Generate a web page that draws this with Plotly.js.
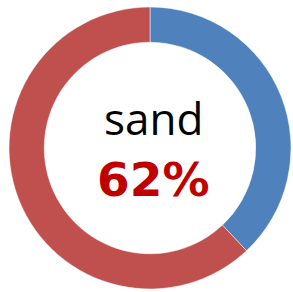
<!DOCTYPE html>
<html>
<head>
<meta charset="utf-8">
<script src="https://cdn.plot.ly/plotly-3.0.1.min.js"></script>
<style>html,body{margin:0;padding:0;background:#fff;}#chart{width:293px;height:292px;}</style>
</head>
<body>
<div id="chart"></div>
<script>
const labels = ["other", "sand"];
const values = [38, 62];
const colors = ["#4F81BD", "#C0504D"];
const centerLabel = "sand";
const centerValue = "62%";

const data = [{
  type: "pie",
  labels: labels,
  values: values,
  hole: 0.75,
  sort: false,
  direction: "clockwise",
  rotation: 0,
  textinfo: "none",
  hoverinfo: "label+percent",
  marker: {colors: colors, line: {color: "#ffffff", width: 0.5}},
  domain: {x: [9/293, 291/293], y: [3/292, 285/292]},
  showlegend: false
}];

const layout = {
  width: 293, height: 292,
  margin: {l: 0, r: 0, t: 0, b: 0},
  paper_bgcolor: "#ffffff",
  showlegend: false,
  annotations: [
    {text: centerLabel, x: 153/293, y: 1 - 118/292, xref: "paper", yref: "paper",
     showarrow: false, font: {family: "Open Sans, sans-serif", size: 44, color: "#000000"}},
    {text: "<b>" + centerValue + "</b>", x: 153/293, y: 1 - 179/292, xref: "paper", yref: "paper",
     showarrow: false, font: {family: "DejaVu Sans, sans-serif", size: 47, color: "#C00000"}}
  ]
};

Plotly.newPlot("chart", data, layout, {displayModeBar: false, staticPlot: true});
</script>
</body>
</html>
